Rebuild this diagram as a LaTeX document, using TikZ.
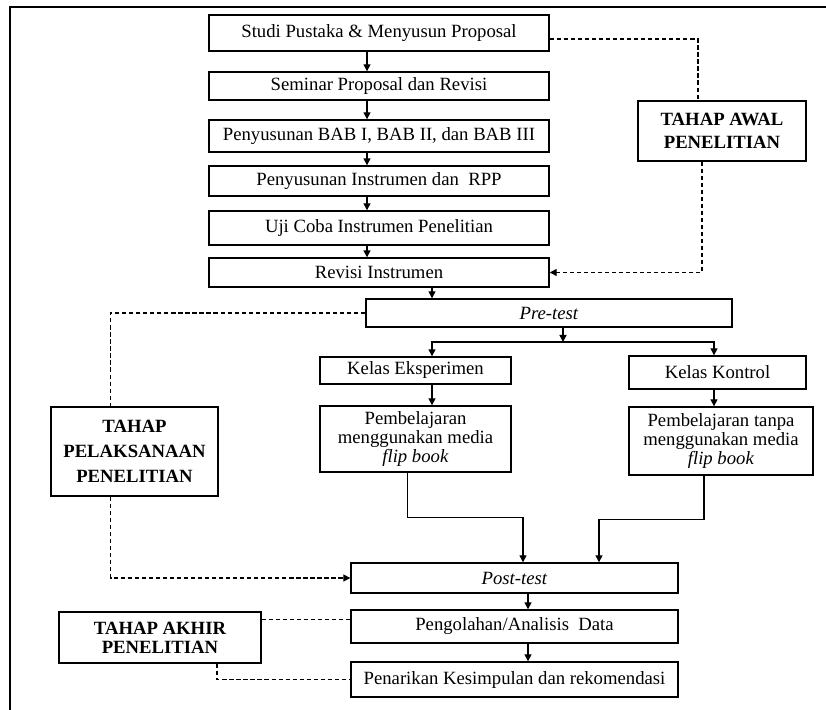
\documentclass[tikz,border=0pt]{standalone}
\usepackage{fontspec}
\setmainfont{Liberation Serif}
\usetikzlibrary{arrows.meta}
\tikzset{>/.tip={Triangle[width=5pt,length=5pt]}}

\begin{document}
\begin{tikzpicture}[
  box/.style={draw, line width=1pt, inner sep=0pt, align=center, font=\fontsize{13.3}{15}\selectfont},
  tahap/.style={box, font=\fontsize{13.3}{16}\selectfont\bfseries},
  flow/.style={->, line width=1pt},
  link/.style={line width=1pt, dash pattern=on 3pt off 2pt}]
\useasboundingbox (0,0) rectangle (20.65,17.725);
\draw[line width=1.3pt] (0.25,-0.2) |- (20.9,17.55);

\coordinate (colA) at (10.8,0);
\coordinate (colB) at (17.85,0);
\coordinate (fork) at (14.075,9.175);

\node[box, minimum width=8.5cm, minimum height=0.9cm] (studi) at (9.475,16.9) {Studi Pustaka \& Menyusun Proposal};
\node[box, minimum width=8.5cm, minimum height=0.7cm] (seminar) at (9.475,15.575) {Seminar Proposal dan Revisi};
\node[box, minimum width=8.5cm, minimum height=0.8cm] (bab) at (9.475,14.325) {Penyusunan BAB I, BAB II, dan BAB III};
\node[box, minimum width=8.5cm, minimum height=0.75cm] (instr) at (9.475,13.2) {Penyusunan Instrumen dan\ \ RPP};
\node[box, minimum width=8.5cm, minimum height=0.85cm] (uji) at (9.475,12.025) {Uji Coba Instrumen Penelitian};
\node[box, minimum width=8.5cm, minimum height=0.725cm] (revisi) at (9.475,10.9125) {Revisi Instrumen};
\node[tahap, minimum width=4.2cm, minimum height=1.5cm] (awal) at (18.05,14.45) {TAHAP AWAL\\PENELITIAN};

\node[box, minimum width=9.15cm, minimum height=0.7cm] (pre) at (13.725,9.9) {\textit{Pre-test}};
\node[tahap, minimum width=4.175cm, minimum height=2.225cm, font=\fontsize{13.3}{18}\selectfont\bfseries] (pelaksanaan) at (3.3625,6.4375) {TAHAP\\PELAKSANAAN\\PENELITIAN};
\node[box, minimum width=4.775cm, minimum height=0.675cm] (eks) at (10.3875,8.4625) {Kelas Eksperimen};
\node[box, minimum width=4.425cm, minimum height=0.825cm] (kon) at (17.9375,8.4125) {Kelas Kontrol};
\node[box, minimum width=4.775cm, minimum height=1.65cm, font=\fontsize{13.3}{13.5}\selectfont] (pemb-eks) at (10.3875,6.75) {Pembelajaran\\menggunakan media\\\textit{flip book}};
\node[box, minimum width=4.6cm, minimum height=1.7cm, font=\fontsize{13.3}{13.5}\selectfont] (pemb-kon) at (18.025,6.7) {Pembelajaran tanpa\\menggunakan media\\\textit{flip book}};

\node[box, minimum width=8.175cm, minimum height=0.75cm] (post) at (12.8625,3.275) {\textit{Post-test}};
\node[box, minimum width=8.175cm, minimum height=0.825cm] (olah) at (12.8625,2.0625) {Pengolahan/Analisis\ \ Data};
\node[box, minimum width=8.175cm, minimum height=0.875cm] (simpulan) at (12.8625,0.7375) {Penarikan Kesimpulan dan rekomendasi};
\node[tahap, minimum width=5.05cm, minimum height=1.275cm, font=\fontsize{13.3}{13.5}\selectfont\bfseries] (akhir) at (4.0,1.7875) {TAHAP AKHIR\\PENELITIAN};

% alur utama
\foreach \a/\b in {studi/seminar, seminar/bab, bab/instr, instr/uji, uji/revisi}
  \draw[flow] ([xshift=-0.3cm]\a.south) -- ([xshift=-0.3cm]\b.north);
\draw[flow] (revisi.south -| colA) -- (pre.north -| colA);
\draw[flow] (pre.south -| fork) -- (fork);
\draw[flow] (fork) -| (eks.north -| colA);
\draw[flow] (fork) -| (kon.north -| colB);
\draw[flow] (eks.south -| colA) -- (pemb-eks.north -| colA);
\draw[flow] (kon.south -| colB) -- (pemb-kon.north -| colB);
\draw[flow] ([xshift=-0.2cm]pemb-eks.south) -- ++(0,-1.125) -| ([xshift=0.2125cm]post.north);
\draw[flow] ([xshift=-0.425cm]pemb-kon.south) -- ++(0,-1.1) -| ([xshift=2.1125cm]post.north);
\draw[flow] ([xshift=0.3375cm]post.south) -- ([xshift=0.3375cm]olah.north);
\draw[flow] ([xshift=0.3375cm]olah.south) -- ([xshift=0.3375cm]simpulan.north);

% tahap
\draw[link] ([yshift=-0.15cm]studi.east) -| ([xshift=-0.6cm]awal.north);
\draw[link,->] ([xshift=-0.5cm]awal.south) |- (revisi.east);
\draw[link] (pre.west) -| ([xshift=-0.6cm]pelaksanaan.north);
\draw[link,->] ([xshift=-0.6cm]pelaksanaan.south) |- (post.west);
\coordinate (akhirE) at ([yshift=0.45cm]akhir.east);
\draw[link] (akhirE) -- (akhirE -| olah.west);
\draw[link] ([xshift=1.425cm]akhir.south) |- (simpulan.west);
\end{tikzpicture}
\end{document}
